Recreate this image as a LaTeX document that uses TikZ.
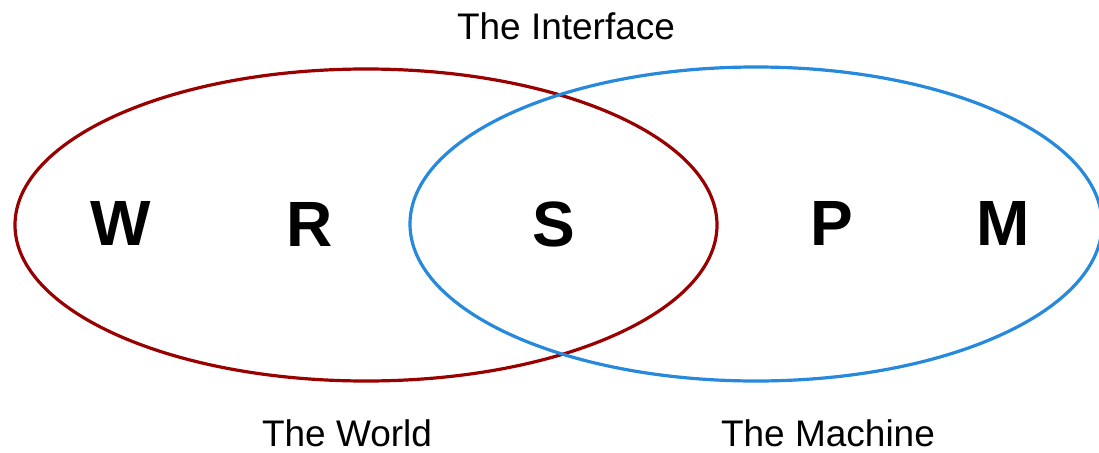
\documentclass[tikz,border=0pt]{standalone}
\usepackage{fontspec}
\setmainfont{Liberation Sans}
\definecolor{worldred}{RGB}{153,0,0}
\definecolor{machblue}{RGB}{38,137,220}
\begin{document}
\begin{tikzpicture}[x=1pt,y=-1pt,
  ring/.style={line width=3.2pt},
  big/.style={anchor=base,inner sep=0pt,font=\fontsize{64}{64}\selectfont\bfseries},
  caption/.style={anchor=base,inner sep=0pt,font=\fontsize{37}{37}\selectfont}]
\useasboundingbox (0,0) rectangle (1099,452);
\draw[ring,worldred] (366,225) ellipse [x radius=351, y radius=156];
\draw[ring,machblue] (756,224) ellipse [x radius=346, y radius=157];
\node[big] (w) at (121,245) {W};
\node[big] (r) at (310,246) {R};
\node[big] (s) at (554,246) {S};
\node[big] (p) at (832,245) {P};
\node[big] (m) at (1003,245) {M};
\node[caption] (iface) at (566,40) {The Interface};
\node[caption] (world) at (347,446) {The World};
\node[caption] (machine) at (828,446) {The Machine};
\end{tikzpicture}
\end{document}
